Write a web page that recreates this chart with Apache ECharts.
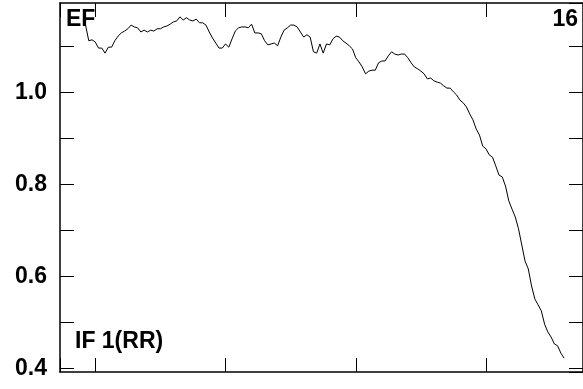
<!DOCTYPE html>
<html lang="en">
<head>
  <meta charset="UTF-8">
  <title>EF</title>
  <script src="https://cdn.jsdelivr.net/npm/echarts@6/dist/echarts.min.js"></script>
  <style>
    html, body { margin: 0; padding: 0; background: #fff; }
    #chart { width: 583px; height: 389px; }
  </style>
</head>
<body>
  <div id="chart"></div>
<script>
  // sample numbers: first point is sample 37, one value per sample
  var firstSample = 37
  var ef = [
    1.146, 1.112, 1.114, 1.109, 1.096, 1.096, 1.085, 1.098, 1.098, 1.112,
    1.122, 1.129, 1.133, 1.138, 1.146, 1.142, 1.140, 1.131, 1.135, 1.131,
    1.135, 1.133, 1.138, 1.138, 1.142, 1.144, 1.148, 1.153, 1.155, 1.164,
    1.157, 1.162, 1.157, 1.155, 1.159, 1.151, 1.151, 1.146, 1.131, 1.118,
    1.107, 1.096, 1.096, 1.105, 1.098, 1.116, 1.133, 1.140, 1.142, 1.142,
    1.140, 1.148, 1.129, 1.129, 1.127, 1.112, 1.103, 1.105, 1.107, 1.101,
    1.120, 1.135, 1.140, 1.146, 1.146, 1.142, 1.131, 1.120, 1.125, 1.120,
    1.088, 1.085, 1.105, 1.085, 1.105, 1.103, 1.116, 1.122, 1.120, 1.112,
    1.107, 1.101, 1.094, 1.075, 1.066, 1.055, 1.040, 1.046, 1.048, 1.048,
    1.064, 1.068, 1.068, 1.079, 1.088, 1.083, 1.081, 1.083, 1.083, 1.075,
    1.064, 1.055, 1.051, 1.046, 1.040, 1.029, 1.031, 1.025, 1.022, 1.020,
    1.014, 1.009, 1.009, 1.001, 0.994, 0.983, 0.977, 0.968, 0.953, 0.940,
    0.920, 0.907, 0.883, 0.877, 0.864, 0.859, 0.840, 0.820, 0.816, 0.796,
    0.764, 0.746, 0.729, 0.703, 0.668, 0.633, 0.616, 0.579, 0.551, 0.538,
    0.525, 0.496, 0.479, 0.468, 0.453, 0.449, 0.433, 0.422
  ]
  var xRange = [29.16, 189.8]
  var yRange = [0.392, 1.194]
  var xStep = 40   // x tick spacing in samples
  var yStep = 0.1  // y tick spacing, labels every 0.2

  var chart = echarts.init(document.getElementById('chart'))

  var lineStyle = { color: '#000', width: 1.5 }
  var tickStyle = { show: true, inside: true, length: 14, lineStyle: { color: '#000', width: 1 } }
  var labelFont = { fontFamily: 'Liberation Sans', fontWeight: 'bold', fontSize: 23, color: '#000' }
  var textFont = 'bold 23px "Liberation Sans"'

  function xAxisAt(pos) {
    return {
      type: 'value', position: pos,
      min: xRange[0], max: xRange[1],
      minInterval: xStep, maxInterval: xStep,
      axisLine: { show: true, lineStyle: lineStyle },
      axisTick: tickStyle,
      axisLabel: { show: false },
      splitLine: { show: false }
    }
  }

  function yAxisAt(pos, withLabels) {
    return {
      type: 'value', position: pos,
      min: yRange[0], max: yRange[1],
      minInterval: yStep, maxInterval: yStep,
      axisLine: { show: true, lineStyle: lineStyle },
      axisTick: tickStyle,
      splitLine: { show: false },
      axisLabel: Object.assign({
        show: withLabels,
        margin: 13,
        showMinLabel: false,
        showMaxLabel: false,
        formatter: function (v) {
          var k = v * 5
          return Math.abs(k - Math.round(k)) < 1e-6 ? v.toFixed(1) : ''
        }
      }, labelFont)
    }
  }

  chart.setOption({
    animation: false,
    grid: { left: 60, right: -10, top: 3, bottom: 17 },
    xAxis: [xAxisAt('bottom'), xAxisAt('top')],
    yAxis: [yAxisAt('left', true), yAxisAt('right', false)],
    series: [{
      type: 'line',
      showSymbol: false,
      lineStyle: { color: '#000', width: 1 },
      data: ef.map(function (v, i) { return [firstSample + i, v] })
    }],
    graphic: [
      { type: 'text', x: 66, y: 8, style: { text: 'EF', font: textFont, fill: '#000', textVerticalAlign: 'top' } },
      { type: 'text', x: 578, y: 8, style: { text: '16', font: textFont, fill: '#000', textAlign: 'right', textVerticalAlign: 'top' } },
      { type: 'text', x: 75, y: 330, style: { text: 'IF 1(RR)', font: textFont, fill: '#000', textVerticalAlign: 'top' } }
    ]
  })
</script>
</body>
</html>
